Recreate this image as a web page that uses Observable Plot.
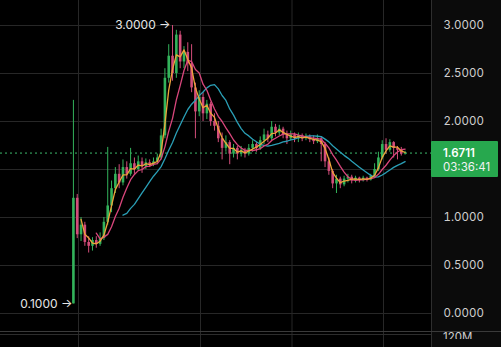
<!DOCTYPE html>
<html>
<head>
<meta charset="utf-8">
<script src="https://cdn.jsdelivr.net/npm/d3@7"></script>
<script src="https://cdn.jsdelivr.net/npm/@observablehq/plot@0.6"></script>
<style>
  html, body { margin: 0; padding: 0; background: #000; }
  #chart { width: 501px; height: 347px; overflow: hidden; }
  svg { display: block; }
</style>
</head>
<body>
<div id="chart"></div>
<script>
// ---- data (15-minute candles) ----
const open = [0.10,1.20,0.82,0.92,0.74,0.70,0.76,0.72,0.78,0.95,
  1.12,1.30,1.45,1.36,1.52,1.45,1.56,1.50,1.58,1.53,
  1.57,1.55,1.58,1.62,1.85,2.45,2.68,2.50,2.90,2.62,
  2.72,2.60,2.35,2.10,2.25,2.08,2.18,2.00,1.95,1.82,
  1.72,1.78,1.66,1.72,1.66,1.70,1.66,1.72,1.76,1.72,
  1.80,1.86,1.82,1.94,1.88,1.92,1.86,1.82,1.86,1.82,
  1.85,1.82,1.84,1.81,1.79,1.82,1.76,1.58,1.48,1.35,
  1.40,1.34,1.40,1.42,1.38,1.41,1.39,1.41,1.39,1.43,
  1.50,1.62,1.76,1.70,1.78,1.72,1.70,1.66];
const high = [2.22,1.24,1.00,0.95,0.80,0.79,0.80,0.84,1.00,1.73,
  1.38,1.52,1.55,1.60,1.58,1.72,1.62,1.64,1.62,1.61,
  1.60,1.62,1.66,1.92,2.55,2.80,3.00,2.95,2.94,2.78,
  2.82,2.80,2.40,2.32,2.30,2.22,2.20,2.08,2.00,1.88,
  1.85,1.80,1.76,1.74,1.74,1.72,1.76,1.80,1.78,1.84,
  1.92,1.90,2.00,1.97,1.96,1.94,1.90,1.90,1.88,1.88,
  1.87,1.87,1.86,1.85,1.86,1.84,1.78,1.62,1.50,1.44,
  1.42,1.43,1.45,1.44,1.43,1.42,1.43,1.42,1.45,1.56,
  1.68,1.80,1.82,1.81,1.79,1.74,1.73,1.69];
const low = [0.10,0.78,0.75,0.70,0.63,0.65,0.68,0.70,0.76,0.92,
  1.05,1.25,1.30,1.33,1.40,1.43,1.45,1.48,1.46,1.50,
  1.52,1.53,1.55,1.60,1.82,2.40,2.42,2.45,2.55,2.55,
  2.52,2.30,1.82,2.05,2.00,2.02,1.95,1.90,1.78,1.60,
  1.68,1.55,1.62,1.60,1.63,1.62,1.64,1.68,1.68,1.70,
  1.76,1.78,1.80,1.84,1.85,1.82,1.76,1.80,1.78,1.78,
  1.79,1.80,1.78,1.76,1.77,1.58,1.52,1.44,1.30,1.25,
  1.30,1.32,1.36,1.35,1.36,1.36,1.37,1.37,1.38,1.41,
  1.48,1.60,1.66,1.68,1.62,1.60,1.64,1.65];
const close = [1.20,0.82,0.92,0.74,0.70,0.76,0.72,0.78,0.95,1.12,
  1.30,1.45,1.36,1.52,1.45,1.56,1.50,1.58,1.53,1.57,
  1.55,1.58,1.62,1.85,2.45,2.68,2.50,2.90,2.62,2.72,
  2.60,2.35,2.10,2.25,2.08,2.18,2.00,1.95,1.82,1.72,
  1.78,1.66,1.72,1.66,1.70,1.66,1.72,1.76,1.72,1.80,
  1.86,1.82,1.94,1.88,1.92,1.86,1.82,1.86,1.82,1.85,
  1.82,1.84,1.81,1.79,1.82,1.76,1.58,1.48,1.35,1.40,
  1.34,1.40,1.42,1.38,1.41,1.39,1.41,1.39,1.43,1.50,
  1.62,1.76,1.70,1.78,1.72,1.70,1.66,1.6711];

const firstCandle = new Date(Date.UTC(2024, 2, 10, 3, 40));
const times = open.map((_, i) => new Date(+firstCandle + i * 15 * 60000));

const gridPrices = [0, 0.5, 1, 1.5, 2, 2.5, 3];
const axisPrices = [0, 0.5, 1, 2, 2.5, 3];   // 1.5 sits under the last-price tag
const gridTimes = [
  new Date(Date.UTC(2024, 2, 10, 4, 0)),
  new Date(Date.UTC(2024, 2, 10, 12, 0)),
  new Date(Date.UTC(2024, 2, 10, 18, 0)),
  new Date(Date.UTC(2024, 2, 11, 0, 0))
];
const lastPrice = 1.6711;
const countdown = "03:36:41";
const volumeLabel = "120M";
const maWindows = [14, 7, 3];

const UP = "#33b35b", DOWN = "#d34d7a";
const MA_COLORS = ["#2a9fb6", "#d9467c", "#eea43a"];

const data = times.map((t, i) => ({t, o: open[i], h: high[i], l: low[i], c: close[i], up: close[i] >= open[i]}));
const fmt = d3.format(".4f");
const maxI = d3.maxIndex(high), minI = d3.minIndex(low);

const chart = Plot.plot({
  width: 501, height: 347,
  marginTop: 0, marginBottom: 0, marginLeft: 0, marginRight: 70,
  style: {background: "transparent", color: "#d0d0d0", fontFamily: "Inter, 'Noto Sans', sans-serif", fontSize: "11.5px"},
  x: {type: "utc", domain: [gridTimes[0], gridTimes[3]], range: [78, 383], axis: null},
  y: {domain: [0, 3], range: [313, 25], axis: null},
  marks: [
    Plot.gridY(gridPrices, {stroke: "#272727", strokeOpacity: 1}),
    Plot.gridX(gridTimes, {stroke: "#272727", strokeOpacity: 1}),
    Plot.ruleY([lastPrice], {stroke: "#3dbb6d", strokeDasharray: "2,3", strokeWidth: 1}),
    Plot.ruleX(data, {x: "t", y1: "l", y2: "h", stroke: d => d.up ? UP : DOWN, strokeWidth: 1}),
    Plot.ruleX(data, {x: "t", y1: "o", y2: "c", stroke: d => d.up ? UP : DOWN, strokeWidth: 2.6}),
    ...maWindows.map((k, j) => Plot.lineY(data, Plot.windowY({k, anchor: "end", strict: true}, {x: "t", y: "c", stroke: MA_COLORS[j], strokeWidth: 1.3}))),
    Plot.axisY(axisPrices, {anchor: "right", tickSize: 0, tickPadding: 12, textAnchor: "start", tickFormat: fmt, fill: "#cfcfcf", fontSize: 11.5}),
    Plot.text([maxI], {x: i => times[i], y: i => high[i], text: i => fmt(high[i]) + " →", textAnchor: "end", dx: -2, fill: "#e6e6e6", fontSize: 12}),
    Plot.text([minI], {x: i => times[i], y: i => low[i], text: i => fmt(low[i]) + " →", textAnchor: "end", dx: -1, fill: "#e6e6e6", fontSize: 12})
  ]
});

document.getElementById("chart").appendChild(chart);

// ---- chrome: price-axis panel, volume pane separator, last-price tag ----
const svg = d3.select(chart);
const W = 501, H = 347, frameRight = W - 70;
svg.insert("rect", ":first-child").attr("x", frameRight).attr("y", 0).attr("width", 70).attr("height", H).attr("fill", "#0b0b0b");
svg.append("line").attr("x1", frameRight + 0.5).attr("x2", frameRight + 0.5).attr("y1", 0).attr("y2", H).attr("stroke", "#2e2e2e");
svg.append("line").attr("x1", 0).attr("x2", W).attr("y1", 331.5).attr("y2", 331.5).attr("stroke", "#3a3a3a");
svg.append("line").attr("x1", 0).attr("x2", frameRight).attr("y1", 334.5).attr("y2", 334.5).attr("stroke", "#2c2c2c");
svg.append("clipPath").attr("id", "volclip").append("rect").attr("x", frameRight + 1).attr("y", 332).attr("width", 69).attr("height", 7);
svg.append("text").attr("x", frameRight + 12).attr("y", 341).attr("clip-path", "url(#volclip)")
  .attr("text-anchor", "start").attr("fill", "#cfcfcf").attr("font-size", 11.5).attr("font-family", "Inter, sans-serif").text(volumeLabel);

const py = chart.scale("y").apply(lastPrice);
const tag = svg.append("g").attr("text-anchor", "start");
tag.append("rect").attr("x", frameRight).attr("y", py - 11.5).attr("width", 67).attr("height", 36).attr("rx", 1).attr("fill", "#27a84e");
tag.append("text").attr("x", frameRight + 12).attr("y", py + 4).attr("text-anchor", "start").attr("fill", "#ffffff").attr("font-size", 11.5).attr("font-weight", 600).attr("font-family", "Inter, sans-serif").text(fmt(lastPrice));
tag.append("text").attr("x", frameRight + 12).attr("y", py + 18.5).attr("text-anchor", "start").attr("fill", "#f2f2f2").attr("font-size", 11.5).attr("font-family", "Inter, sans-serif").text(countdown);
</script>
</body>
</html>
